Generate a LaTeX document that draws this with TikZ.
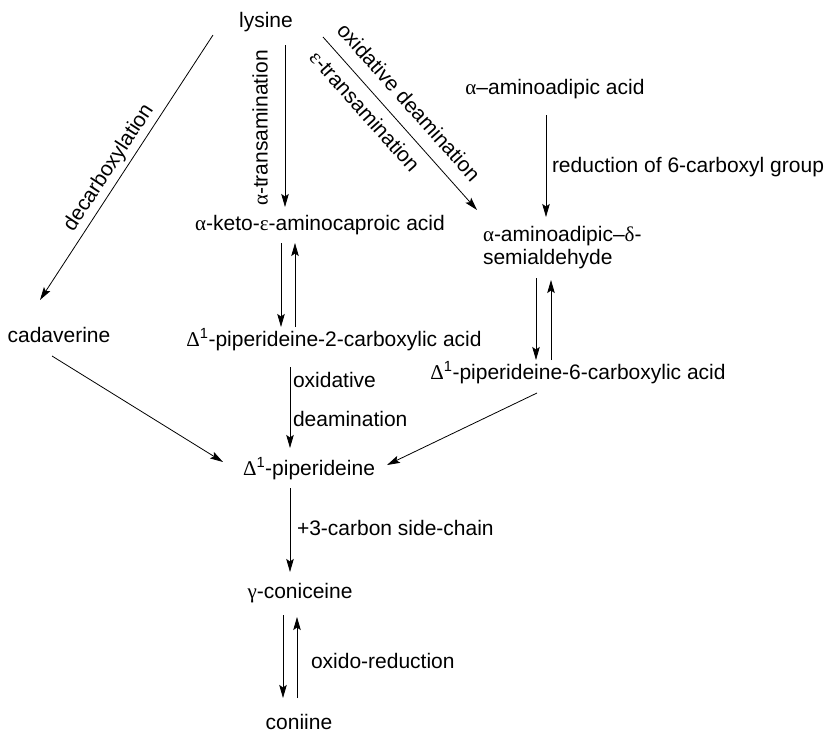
\documentclass[tikz,border=0pt]{standalone}
\usepackage{fontspec}
\setmainfont{Liberation Sans}
\newfontfamily\grk{Liberation Serif}
\usetikzlibrary{arrows.meta}
\newcommand{\gr}[1]{{\grk #1}}
\newcommand{\Dl}{\gr{Δ}\textsuperscript{1}}
\begin{document}
\begin{tikzpicture}[x=1pt,y=-1pt,
  every node/.style={inner sep=0pt,outer sep=0pt,font=\fontsize{21}{23}\selectfont},
  cmpd/.style={anchor=base},
  lbl/.style={anchor=base west},
  rlbl/.style={anchor=center},
  arr/.style={line width=0.8pt,-{Stealth[length=13pt,width=7.5pt,inset=2.5pt]}}]
\useasboundingbox (0,0) rectangle (828,731);

% compounds
\node[cmpd] (lys)  at (266,27)  {lysine};
\node[cmpd] (akac) at (320,230) {\gr{α}-keto-\gr{ε}-aminocaproic acid};
\node[cmpd] (cad)  at (59,342)  {cadaverine};
\node[cmpd] (aaa)  at (555,94)  {\gr{α}–aminoadipic acid};
\node[anchor=base west] (sem) at (483,241)
  {\begin{tabular}[t]{@{}l@{}}\gr{α}-aminoadipic–\gr{δ}-\\semialdehyde\end{tabular}};
\node[cmpd] (d2)   at (334,346) {\Dl-piperideine-2-carboxylic acid};
\node[cmpd] (d6)   at (578,379) {\Dl-piperideine-6-carboxylic acid};
\node[cmpd] (pip)  at (309,475) {\Dl-piperideine};
\node[cmpd] (gcon) at (300,598) {\gr{γ}-coniceine};
\node[cmpd] (con)  at (299,729) {coniine};

% reaction labels
\node[rlbl,rotate=90]    (latr) at (260,128) {\gr{α}-transamination};
\node[rlbl,rotate=56.8]  (ldec) at (109,168) {decarboxylation};
\node[rlbl,rotate=-48.3] (loxd) at (409,102) {oxidative deamination};
\node[rlbl,rotate=-48.3] (letr) at (365,111) {\gr{ε}-transamination};
\node[lbl] (lred) at (552,172) {reduction of 6-carboxyl group};
\node[lbl] (lox1) at (293,387) {oxidative};
\node[lbl] (lox2) at (293,426) {deamination};
\node[lbl] (lsc)  at (297,535) {+3-carbon side-chain};
\node[lbl] (lor)  at (311,668) {oxido-reduction};

% connectors
\draw[arr] ([shift={(19,18)}]lys.base)   -- ([shift={(-35,-23)}]akac.base);
\draw[arr] ([shift={(-53,8)}]lys.base)   -- ([shift={(-19,-42)}]cad.base);
\draw[arr] ([shift={(57,10)}]lys.base)   -- ([shift={(-6,-31)}]sem.base west);
\draw[arr] ([shift={(-9,21)}]aaa.base)   -- ([shift={(63,-24)}]sem.base west);
\draw[arr] ([shift={(-39,13)}]akac.base) -- ([shift={(-53,-19)}]d2.base);
\draw[arr] ([shift={(-39,-19)}]d2.base)  -- ([shift={(-25,13)}]akac.base);
\draw[arr] ([shift={(53,37)}]sem.base west) -- ([shift={(-42,-19)}]d6.base);
\draw[arr] ([shift={(-27,-19)}]d6.base)  -- ([shift={(68,39)}]sem.base west);
\draw[arr] ([shift={(-7,14)}]cad.base)   -- ([shift={(-86,-13)}]pip.base);
\draw[arr] ([shift={(-44,21)}]d2.base)   -- ([shift={(-19,-27)}]pip.base);
\draw[arr] ([shift={(-41,14)}]d6.base)   -- ([shift={(78,-10)}]pip.base);
\draw[arr] ([shift={(-19,13)}]pip.base)  -- ([shift={(-10,-26)}]gcon.base);
\draw[arr] ([shift={(-17,17)}]gcon.base) -- ([shift={(-16,-31)}]con.base);
\draw[arr] ([shift={(-2,-31)}]con.base)  -- ([shift={(-3,19)}]gcon.base);
\end{tikzpicture}
\end{document}
